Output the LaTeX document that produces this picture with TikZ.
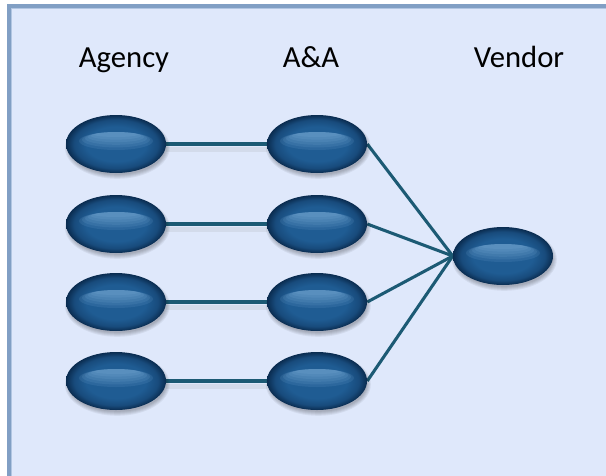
\documentclass[tikz,border=0pt]{standalone}
\usepackage{fontspec}
\setmainfont{Carlito}
\usetikzlibrary{shapes.geometric}

\definecolor{panelfill}{HTML}{DFE8FB}
\definecolor{paneledge}{HTML}{819FC4}
\definecolor{panelinner}{HTML}{B2C6E2}
\definecolor{blobcore}{HTML}{1F5C93}
\definecolor{blobmid}{HTML}{184B7C}
\definecolor{blobrim}{HTML}{0A2C50}
\definecolor{blobshine}{HTML}{8EBDE6}
\definecolor{linkcol}{HTML}{1C5A74}

\pgfdeclareradialshading{blobshade}{\pgfpoint{0bp}{0bp}}{%
  color(0bp)=(blobcore); color(15bp)=(blobcore); color(21bp)=(blobmid);
  color(25bp)=(blobrim); color(50bp)=(blobrim)}

\tikzset{
  % named anchor holder for each oval; the oval itself is painted on top afterwards
  blobspot/.style={ellipse, minimum width=75pt, minimum height=42.75pt, inner sep=0pt},
  link/.style={draw=linkcol, line width=2.3pt},
  linkshadow/.style={draw=gray!80, opacity=0.16, line width=3.5pt},
  heading/.style={font=\fontsize{23pt}{27pt}\selectfont, anchor=base, text=black}
}

\begin{document}
\begin{tikzpicture}[x=0.75pt, y=-0.75pt]
  \useasboundingbox (0,0) rectangle (606,475);
  \fill[white] (0,0) rectangle (606,475);

  % panel
  \draw[draw=paneledge, fill=panelfill, line width=3pt] (9,6) rectangle (640,500);
  \draw[draw=panelinner, line width=0.75pt] (11.5,8.5) rectangle (640,500);

  % column headings
  \node[heading] (hagency) at (124,67) {Agency};
  \node[heading] (haa) at (311,67) {A\&A};
  \node[heading] (hvendor) at (519,67) {Vendor};

  % agency column
  \node[blobspot] (g1) at (116,144) {};
  \node[blobspot] (g2) at (116,224) {};
  \node[blobspot] (g3) at (116,302) {};
  \node[blobspot] (g4) at (116,381) {};

  % A&A column
  \node[blobspot] (a1) at (317,144) {};
  \node[blobspot] (a2) at (317,224) {};
  \node[blobspot] (a3) at (317,302) {};
  \node[blobspot] (a4) at (317,381) {};

  % vendor
  \node[blobspot] (v) at (503,256) {};

  % soft shadows under the links
  \foreach \i in {1,2,3,4} {
    \draw[linkshadow] ([yshift=-4pt]g\i.east) -- ([yshift=-4pt]a\i.west);
  }
  % links
  \foreach \i in {1,2,3,4} {
    \draw[link] (g\i.east) -- (a\i.west);
    \draw[link] (a\i.east) -- (v.west);
  }

  % glossy ovals
  \foreach \n in {g1,g2,g3,g4,a1,a2,a3,a4,v} {
    % blurred drop shadow
    \foreach \r in {0,1,2,3,4} {
      \fill[black, fill opacity=0.055]
        ([xshift=1pt, yshift=-2.5pt]\n.center) ellipse [x radius={48.5+\r}, y radius={27.5+\r}];
    }
    % body
    \shade[shading=blobshade]
      (\n.center) ellipse [x radius=50, y radius=29];
    % highlight band above the middle
    \foreach \k in {0,1,2,3,4,5} {
      \fill[blobshine, fill opacity=0.12]
        ([yshift={-0.75pt*(-12+(9-1.3*\k))}]\n.center)
        ellipse [x radius={37-3*\k}, y radius={9-1.3*\k}];
    }
  }
\end{tikzpicture}
\end{document}
